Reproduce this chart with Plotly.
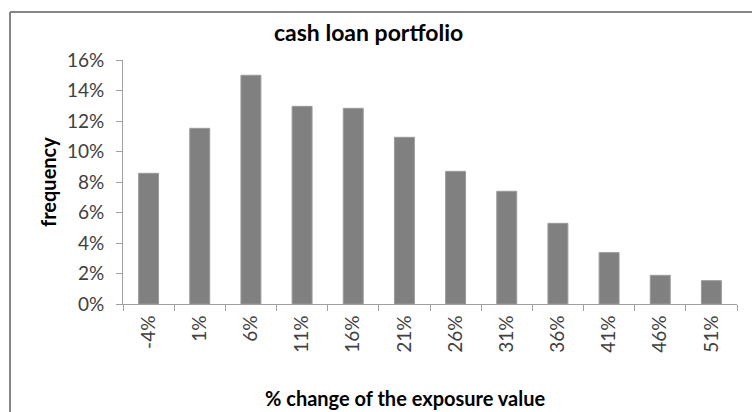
import plotly.graph_objects as go

categories = ["-4%", "1%", "6%", "11%", "16%", "21%", "26%", "31%", "36%", "41%", "46%", "51%"]
frequency = [0.0857, 0.1152, 0.1500, 0.1296, 0.1283, 0.1093, 0.0870, 0.0739, 0.0529, 0.0337, 0.0188, 0.0153]
y_ticks = [0, 0.02, 0.04, 0.06, 0.08, 0.10, 0.12, 0.14, 0.16]

FONT = "Lato"
W, H = 752, 412
L, T = 123, 60
R = W - 737
B = H - 304
pw = W - L - R
ph = H - T - B

fig = go.Figure(go.Bar(
    x=categories, y=frequency,
    marker=dict(color="#808080", line=dict(color="#9a9a9a", width=1)),
    hoverinfo="skip",
))

def px_x(p):
    return (p - L) / pw

def px_y(p):
    return (H - B - p) / ph

fig.update_layout(
    width=W, height=H,
    margin=dict(l=L, r=R, t=T, b=B),
    paper_bgcolor="white", plot_bgcolor="white",
    showlegend=False,
    bargap=0.61,
    font=dict(family=FONT, color="#404040", size=16),
    xaxis=dict(
        type="category", tickson="boundaries", ticks="outside", ticklen=6,
        tickcolor="#a0a0a0", showline=True, linecolor="#a0a0a0", linewidth=1,
        tickangle=-90, tickfont=dict(size=19, color="#404040"), showgrid=False,
        ticklabelstandoff=3,
    ),
    yaxis=dict(
        range=[0, 0.16], tickvals=y_ticks, tickformat=".0%", ticks="outside",
        ticklen=6, tickcolor="#a0a0a0", showline=True, linecolor="#a0a0a0",
        linewidth=1, showgrid=False, zeroline=False,
        tickfont=dict(size=19, color="#404040"), ticklabelstandoff=8,
    ),
    annotations=[
        dict(text="<b>cash loan portfolio</b>", xref="paper", yref="paper",
             x=px_x(368), y=px_y(32), xanchor="center", yanchor="middle",
             showarrow=False, font=dict(size=23, color="#000000", family=FONT)),
        dict(text="<b>frequency</b>", xref="paper", yref="paper",
             x=px_x(48), y=px_y(182), xanchor="center", yanchor="middle",
             textangle=-90, showarrow=False,
             font=dict(size=20, color="#000000", family=FONT)),
        dict(text="<b>% change of the exposure value</b>", xref="paper", yref="paper",
             x=px_x(405), y=px_y(398), xanchor="center", yanchor="middle",
             showarrow=False, font=dict(size=20, color="#000000", family=FONT)),
    ],
    shapes=[
        dict(type="line", xref="paper", yref="paper",
             x0=px_x(10), x1=px_x(760), y0=px_y(12), y1=px_y(12),
             line=dict(color="#868686", width=2)),
        dict(type="line", xref="paper", yref="paper",
             x0=px_x(10), x1=px_x(10), y0=px_y(12), y1=px_y(420),
             line=dict(color="#868686", width=2)),
    ],
)

fig.write_html(
    "out.html",
    config={"displayModeBar": False, "staticPlot": True},
    post_script="document.body.style.margin='0';document.body.style.overflow='hidden';",
)
